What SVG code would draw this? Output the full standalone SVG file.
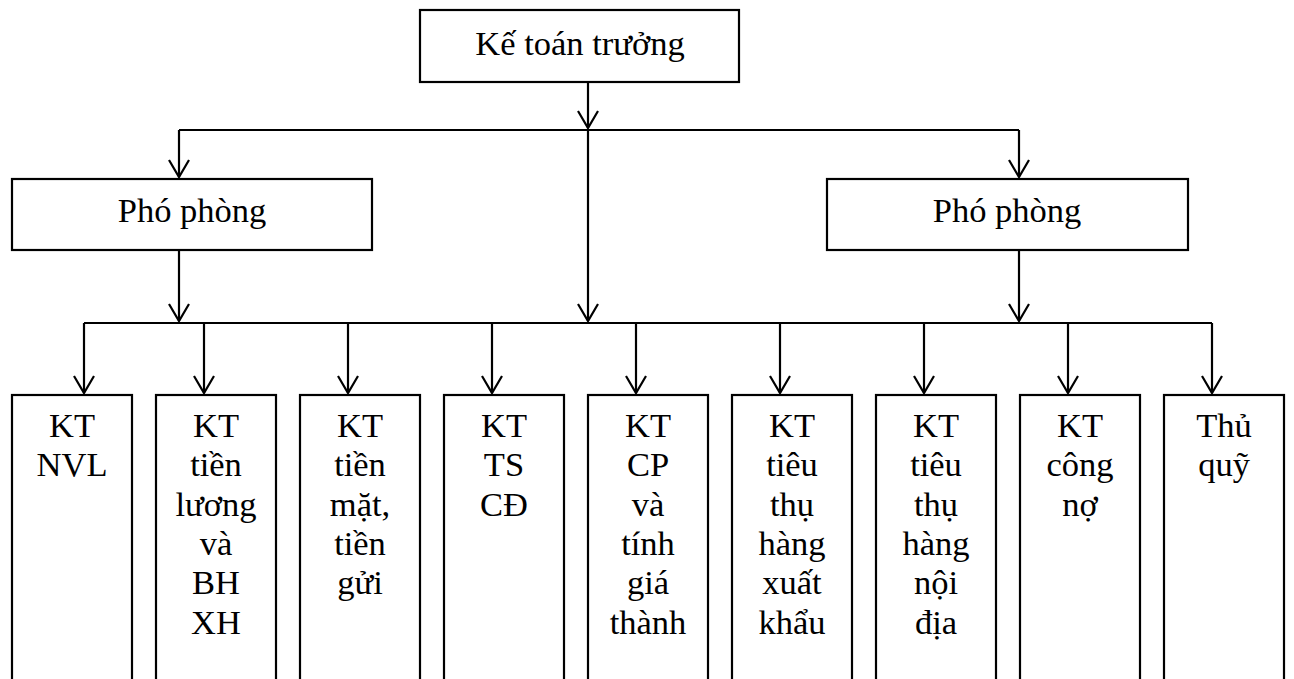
<svg xmlns="http://www.w3.org/2000/svg" width="1294" height="679" viewBox="0 0 1294 679">
  <style>
    .box { fill: #ffffff; stroke: #000000; stroke-width: 2.2; }
    .lbl { font-family: 'Liberation Serif', 'Tinos', 'Times New Roman', 'DejaVu Serif', serif; font-size: 34.5px; fill: #000000; text-anchor: middle; }
    .wire { fill: none; stroke: #000000; stroke-width: 2.2; }
    .arr { fill: none; stroke: #000000; stroke-width: 2.2; marker-end: url(#vee); }
  </style>
  <defs>
    <marker id="vee" markerUnits="userSpaceOnUse" markerWidth="24" markerHeight="24" viewBox="-20 -12 24 24" refX="0" refY="0" orient="auto">
      <path d="M -17 -10 L 0 0 L -17 10" fill="none" stroke="#000000" stroke-width="2.2"/>
    </marker>
  </defs>
  <rect width="1294" height="679" fill="#ffffff"/>

  <!-- connectors -->
  <g id="connectors">
    <!-- chief accountant down to first bus -->
    <line class="arr" x1="588" y1="82" x2="588" y2="128"/>
    <line class="wire" x1="179" y1="130" x2="1019" y2="130"/>
    <line class="arr" x1="179" y1="130" x2="179" y2="177"/>
    <line class="arr" x1="1019" y1="130" x2="1019" y2="177"/>
    <!-- down to second bus -->
    <line class="arr" x1="588" y1="130" x2="588" y2="321"/>
    <line class="arr" x1="179" y1="250" x2="179" y2="321"/>
    <line class="arr" x1="1019" y1="250" x2="1019" y2="321"/>
    <line class="wire" x1="84" y1="323" x2="1212" y2="323"/>
    <!-- drops to staff boxes -->
    <line class="arr" x1="84" y1="323" x2="84" y2="393"/>
    <line class="arr" x1="204" y1="323" x2="204" y2="393"/>
    <line class="arr" x1="348" y1="323" x2="348" y2="393"/>
    <line class="arr" x1="492" y1="323" x2="492" y2="393"/>
    <line class="arr" x1="636" y1="323" x2="636" y2="393"/>
    <line class="arr" x1="780" y1="323" x2="780" y2="393"/>
    <line class="arr" x1="924" y1="323" x2="924" y2="393"/>
    <line class="arr" x1="1068" y1="323" x2="1068" y2="393"/>
    <line class="arr" x1="1212" y1="323" x2="1212" y2="393"/>
  </g>

  <g id="ke-toan-truong">
    <rect class="box" x="420" y="10" width="319" height="72"/>
    <text class="lbl" x="580" y="55" font-family="Liberation Serif, serif">Kế toán trưởng</text>
  </g>

  <g id="pho-phong-trai">
    <rect class="box" x="12" y="179" width="360" height="71"/>
    <text class="lbl" x="192" y="222">Phó phòng</text>
  </g>

  <g id="pho-phong-phai">
    <rect class="box" x="827" y="179" width="361" height="71"/>
    <text class="lbl" x="1007" y="222">Phó phòng</text>
  </g>

  <g id="kt-nvl">
    <rect class="box" x="12" y="395" width="120" height="310"/>
    <text class="lbl" x="72" y="437">KT<tspan x="72" dy="39.3">NVL</tspan></text>
  </g>

  <g id="kt-tien-luong">
    <rect class="box" x="156" y="395" width="120" height="310"/>
    <text class="lbl" x="216" y="437">KT<tspan x="216" dy="39.3">tiền</tspan><tspan x="216" dy="39.3">lương</tspan><tspan x="216" dy="39.3">và</tspan><tspan x="216" dy="39.3">BH</tspan><tspan x="216" dy="39.3">XH</tspan></text>
  </g>

  <g id="kt-tien-mat">
    <rect class="box" x="300" y="395" width="120" height="310"/>
    <text class="lbl" x="360" y="437">KT<tspan x="360" dy="39.3">tiền</tspan><tspan x="360" dy="39.3">mặt,</tspan><tspan x="360" dy="39.3">tiền</tspan><tspan x="360" dy="39.3">gửi</tspan></text>
  </g>

  <g id="kt-ts-cd">
    <rect class="box" x="444" y="395" width="120" height="310"/>
    <text class="lbl" x="504" y="437">KT<tspan x="504" dy="39.3">TS</tspan><tspan x="504" dy="39.3">CĐ</tspan></text>
  </g>

  <g id="kt-cp-gia-thanh">
    <rect class="box" x="588" y="395" width="120" height="310"/>
    <text class="lbl" x="648" y="437">KT<tspan x="648" dy="39.3">CP</tspan><tspan x="648" dy="39.3">và</tspan><tspan x="648" dy="39.3">tính</tspan><tspan x="648" dy="39.3">giá</tspan><tspan x="648" dy="39.3">thành</tspan></text>
  </g>

  <g id="kt-xuat-khau">
    <rect class="box" x="732" y="395" width="120" height="310"/>
    <text class="lbl" x="792" y="437">KT<tspan x="792" dy="39.3">tiêu</tspan><tspan x="792" dy="39.3">thụ</tspan><tspan x="792" dy="39.3">hàng</tspan><tspan x="792" dy="39.3">xuất</tspan><tspan x="792" dy="39.3">khẩu</tspan></text>
  </g>

  <g id="kt-noi-dia">
    <rect class="box" x="876" y="395" width="120" height="310"/>
    <text class="lbl" x="936" y="437">KT<tspan x="936" dy="39.3">tiêu</tspan><tspan x="936" dy="39.3">thụ</tspan><tspan x="936" dy="39.3">hàng</tspan><tspan x="936" dy="39.3">nội</tspan><tspan x="936" dy="39.3">địa</tspan></text>
  </g>

  <g id="kt-cong-no">
    <rect class="box" x="1020" y="395" width="120" height="310"/>
    <text class="lbl" x="1080" y="437">KT<tspan x="1080" dy="39.3">công</tspan><tspan x="1080" dy="39.3">nợ</tspan></text>
  </g>

  <g id="thu-quy">
    <rect class="box" x="1164" y="395" width="120" height="310"/>
    <text class="lbl" x="1224" y="437">Thủ<tspan x="1224" dy="39.3">quỹ</tspan></text>
  </g>
</svg>
